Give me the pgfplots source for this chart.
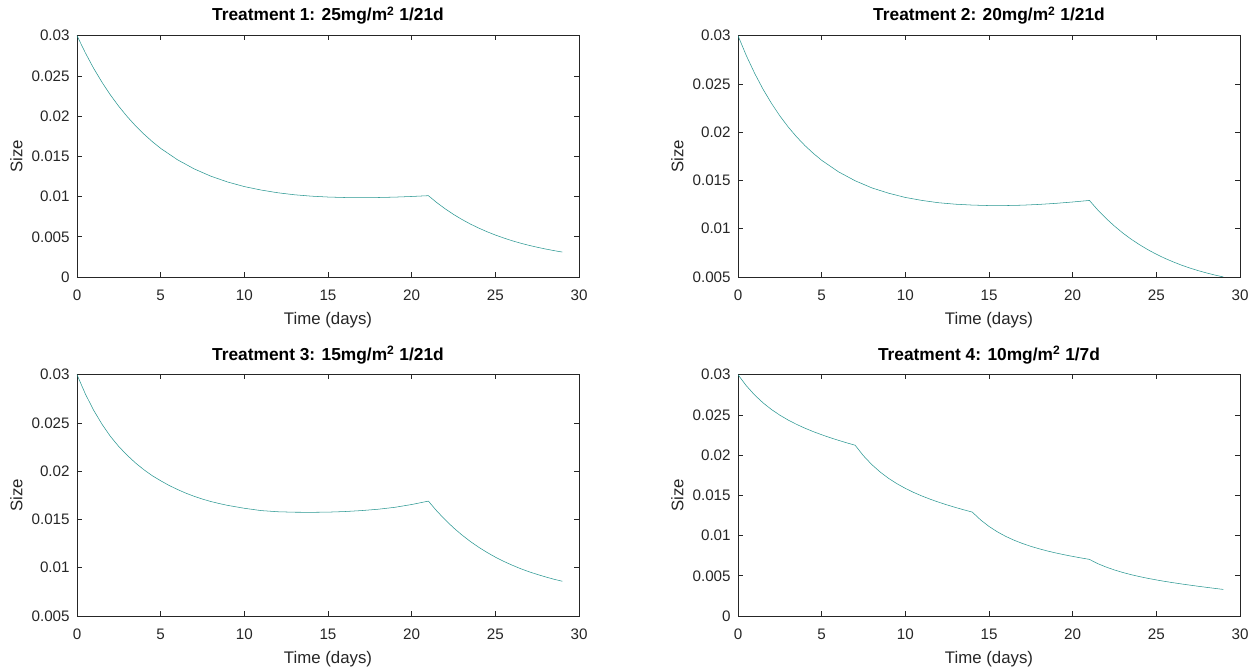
\documentclass[border=0pt]{standalone}
\usepackage{fontspec}
\setmainfont{Liberation Sans}
\usepackage{pgfplots}
\pgfplotsset{compat=1.18}
\definecolor{axgray}{RGB}{38,38,38}
\definecolor{curve}{RGB}{40,150,145}
\pgfplotsset{
  mat/.style={
    scale only axis, width=376.5pt, height=181pt,
    xmin=0, xmax=30, xtick={0,5,...,30},
    tick align=inside, major tick length=3.5pt,
    axis line style={draw=axgray, line width=0.5pt},
    every tick/.style={draw=axgray, line width=0.5pt},
    /pgf/number format/assume math mode=true,
    tick label style={font=\fontsize{11.4}{13}\selectfont, text=axgray},
    xticklabel style={yshift=-6.5pt},
    yticklabel style={xshift=-2pt, /pgf/number format/fixed, /pgf/number format/precision=3},
    scaled y ticks=false, scaled x ticks=false,
    xlabel={Time (days)}, ylabel={Size},
    xlabel style={at={(axis description cs:0.5,0)}, anchor=north, inner sep=0pt, yshift=-26pt, font=\fontsize{12.6}{14}\selectfont, text=axgray},
    ylabel style={at={(axis description cs:-0.1209,0.5)}, anchor=center, inner sep=0pt, font=\fontsize{12.6}{14}\selectfont, text=axgray},
    title style={at={(axis description cs:0.5,1)}, anchor=base, inner sep=0pt, yshift=5pt, font=\bfseries\fontsize{13}{15}\selectfont},
    cycle list={{curve, line width=0.6pt, mark=none}},
  }
}
\begin{document}
\begin{tikzpicture}
\path[use as bounding box] (0,0) rectangle (944.25pt,501pt);
% Treatment 1
\begin{axis}[mat, at={(57.75pt,293.25pt)}, anchor=south west,
  ymin=0, ymax=0.03, ytick={0,0.005,...,0.0301},
  title={Treatment 1: 25mg/m\textsuperscript{2} 1/21d}]
\addplot coordinates {
(0,0.0300) (0.5,0.02786) (1,0.02592) (1.5,0.02419) (2,0.02262) (2.5,0.02121)
(3,0.01994) (3.5,0.01879) (4,0.01776) (4.5,0.01683) (5,0.01599) (6,0.01458)
(7,0.01344) (8,0.01253) (9,0.01181) (10,0.01124) (11,0.01081) (12,0.01047)
(13,0.01022) (14,0.01005) (15,0.00994) (16,0.00988) (17,0.00987) (18,0.00988)
(19,0.00993) (20,0.01001) (21,0.01011) (21.5,0.00925) (22,0.00848) (22.5,0.00778)
(23,0.00716) (23.5,0.00659) (24,0.00609) (24.5,0.00563) (25,0.00522) (25.5,0.00485)
(26,0.00451) (26.5,0.00421) (27,0.00394) (27.5,0.0037) (28,0.00348) (28.5,0.00328)
(29,0.0031)};
\end{axis}
% Treatment 2
\begin{axis}[mat, at={(553.5pt,293.25pt)}, anchor=south west,
  ymin=0.005, ymax=0.03, ytick={0.005,0.01,...,0.0301},
  title={Treatment 2: 20mg/m\textsuperscript{2} 1/21d}]
\addplot coordinates {
(0,0.0300) (0.5,0.02792) (1,0.02608) (1.5,0.02444) (2,0.02299) (2.5,0.02169)
(3,0.02054) (3.5,0.01952) (4,0.01861) (4.5,0.01781) (5,0.01709) (6,0.0159)
(7,0.01497) (8,0.01423) (9,0.01368) (10,0.01324) (11,0.01293) (12,0.01269)
(13,0.01254) (14,0.01245) (15,0.0124) (16,0.0124) (17,0.01244) (18,0.01252)
(19,0.01263) (20,0.01277) (21,0.01293) (21.5,0.01194) (22,0.01106) (22.5,0.01027)
(23,0.00955) (23.5,0.00891) (24,0.00834) (24.5,0.00782) (25,0.00736) (25.5,0.00694)
(26,0.00657) (26.5,0.00623) (27,0.00593) (27.5,0.00566) (28,0.00542) (28.5,0.0052)
(29,0.00501)};
\end{axis}
% Treatment 3
\begin{axis}[mat, at={(57.75pt,39pt)}, anchor=south west,
  ymin=0.005, ymax=0.03, ytick={0.005,0.01,...,0.0301},
  title={Treatment 3: 15mg/m\textsuperscript{2} 1/21d}]
\addplot coordinates {
(0,0.0300) (0.5,0.0280) (1,0.0263) (1.5,0.02485) (2,0.0236) (2.5,0.02255)
(3,0.02165) (3.5,0.02085) (4,0.02015) (4.5,0.01953) (5,0.01901) (5.5,0.01853)
(6,0.01811) (6.5,0.01773) (7,0.0174) (7.5,0.01711) (8,0.01686) (8.5,0.01665)
(9,0.01646) (10,0.01616) (11,0.01592) (12,0.0158) (13,0.01575) (14,0.01574)
(15,0.01576) (16,0.01582) (17,0.01592) (18,0.01606) (19,0.01626) (20,0.01655)
(21,0.0169) (21.5,0.01588) (22,0.01497) (22.5,0.01414)
(23,0.0134) (23.5,0.01273) (24,0.01213) (24.5,0.01159) (25,0.0111) (25.5,0.01066)
(26,0.01027) (26.5,0.00991) (27,0.00959) (27.5,0.00931) (28,0.00905) (28.5,0.00881)
(29,0.0086)};
\end{axis}
% Treatment 4
\begin{axis}[mat, at={(553.5pt,39pt)}, anchor=south west,
  ymin=0, ymax=0.03, ytick={0,0.005,...,0.0301},
  title={Treatment 4: 10mg/m\textsuperscript{2} 1/7d}]
\addplot coordinates {
(0,0.0300) (0.5,0.028615) (1,0.027461) (1.5,0.026492) (2,0.02567) (2.5,0.024966)
(3,0.024356) (3.5,0.023822) (4,0.023347) (4.5,0.02292) (5,0.022532) (5.5,0.022174)
(6,0.02184) (6.5,0.021526) (7,0.021227) (7.5,0.01991) (8,0.018812) (8.5,0.017891)
(9,0.01711) (9.5,0.016443) (10,0.015864) (10.5,0.015359) (11,0.01491) (11.5,0.014508)
(12,0.014142) (12.5,0.013805) (13,0.013491) (13.5,0.013197) (14,0.012917) (14.5,0.011941)
(15,0.011133) (15.5,0.010461) (16,0.009897) (16.5,0.00942) (17,0.009012) (17.5,0.00866)
(18,0.008352) (18.5,0.008079) (19,0.007834) (19.5,0.007612) (20,0.007408) (20.5,0.007218)
(21,0.00704) (21.5,0.006507) (22,0.006083) (22.5,0.00572) (23,0.005409) (23.5,0.005136)
(24,0.004895) (24.5,0.00468) (25,0.004486) (25.5,0.004306) (26,0.004141) (26.5,0.003985)
(27,0.003838) (27.5,0.003697) (28,0.003563) (28.5,0.003431) (29,0.003304)};
\end{axis}
\end{tikzpicture}
\end{document}
